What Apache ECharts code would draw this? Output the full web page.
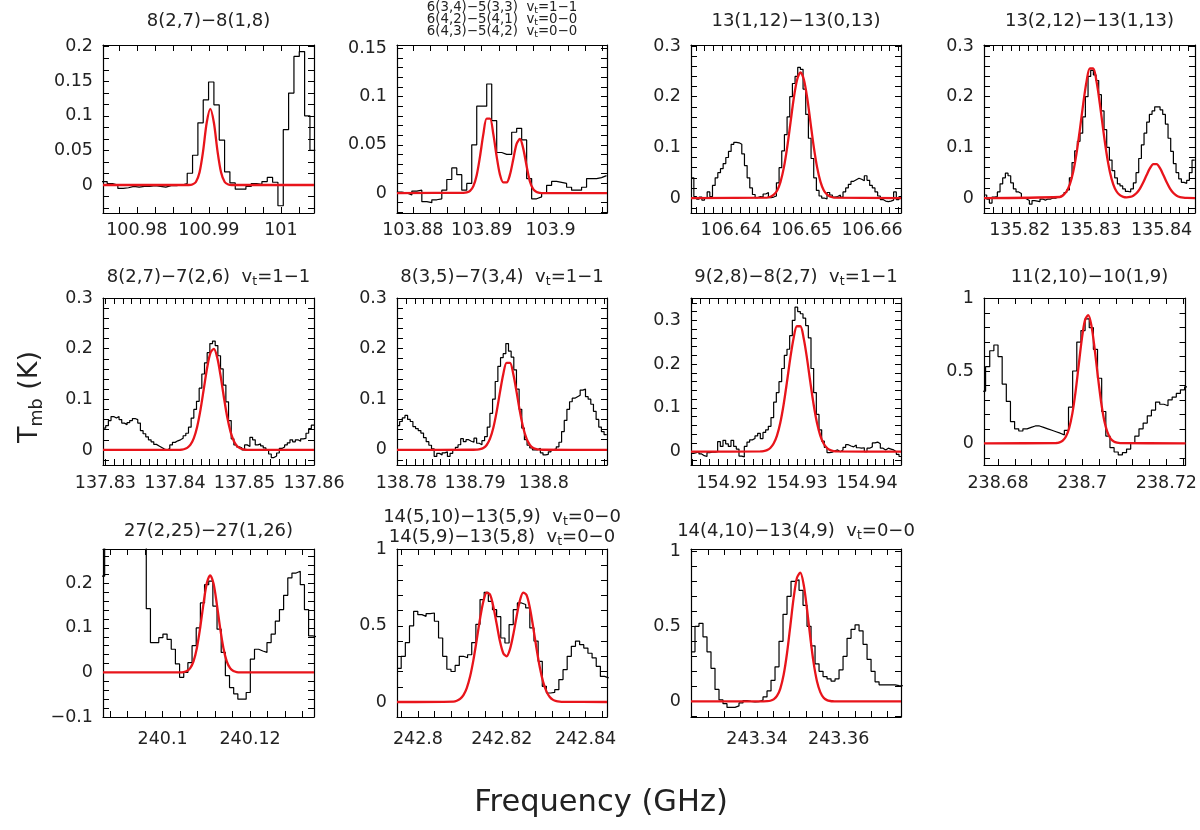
<!DOCTYPE html>
<html>
<head>
<meta charset="utf-8">
<script src="https://cdn.jsdelivr.net/npm/echarts@6/dist/echarts.min.js"></script>
<style>html,body{margin:0;padding:0;background:#fff}#main{width:1200px;height:830px}</style>
</head>
<body>
<div id="main"></div>
<script>
// panel titles (rich text: n = normal, s = subscript)
var titles = [
    '{n|8(2,7)−8(1,8)}',
    '{m|6(3,4)−5(3,3)  v}{ms|t}{m|=1−1}\n{m|6(4,2)−5(4,1)  v}{ms|t}{m|=0−0}\n{m|6(4,3)−5(4,2)  v}{ms|t}{m|=0−0}',
    '{n|13(1,12)−13(0,13)}',
    '{n|13(2,12)−13(1,13)}',
    '{n|8(2,7)−7(2,6)  v}{s|t}{n|=1−1}',
    '{n|8(3,5)−7(3,4)  v}{s|t}{n|=1−1}',
    '{n|9(2,8)−8(2,7)  v}{s|t}{n|=1−1}',
    '{n|11(2,10)−10(1,9)}',
    '{n|27(2,25)−27(1,26)}',
    '{n|14(5,10)−13(5,9)  v}{s|t}{n|=0−0}\n{n|14(5,9)−13(5,8)  v}{s|t}{n|=0−0}',
    '{n|14(4,10)−13(4,9)  v}{s|t}{n|=0−0}'
];

// axis ranges (GHz / K)
var xLo = [100.9753, 103.8777, 106.6343, 135.81496, 137.82966, 138.77865, 154.91486, 238.67667, 240.08639, 242.795, 243.32384];
var xHi = [101.0046, 103.9082, 106.6641, 135.84471, 137.86, 138.80918, 154.94486, 238.72455, 240.1346, 242.8451, 243.37527];
var yLo = [-0.0405, -0.0207, -0.0295, -0.0295, -0.0297, -0.03, -0.0304, -0.15, -0.1, -0.0985, -0.104];
var yHi = [0.2025, 0.1534, 0.302, 0.302, 0.3, 0.3, 0.351, 1.005, 0.277, 1.004, 1.015];

var xTickLabels = [
    [100.98, 100.99, 101], [103.88, 103.89, 103.9], [106.64, 106.65, 106.66], [135.82, 135.83, 135.84],
    [137.83, 137.84, 137.85, 137.86], [138.78, 138.79, 138.8], [154.92, 154.93, 154.94], [238.68, 238.7, 238.72],
    [240.1, 240.12], [242.8, 242.82, 242.84], [243.34, 243.36]
];
var yTickLabels = [
    [0, 0.05, 0.1, 0.15, 0.2], [0, 0.05, 0.1, 0.15], [0, 0.1, 0.2, 0.3], [0, 0.1, 0.2, 0.3],
    [0, 0.1, 0.2, 0.3], [0, 0.1, 0.2, 0.3], [0, 0.1, 0.2, 0.3], [0, 0.5, 1],
    [-0.1, 0, 0.1, 0.2], [0, 0.5, 1], [0, 0.5, 1]
];
var xMinorStep = [0.0025, 0.0025, 0.00125, 0.00125, 0.00125, 0.00125, 0.00125, 0.004, 0.004, 0.004, 0.004];
var yMinorStep = [0.05 / 3, 0.01, 0.02, 0.02, 0.02, 0.02, 0.02, 0.1, 0.02, 0.1, 0.1];

// observed spectra: first channel edge, channel width, Tmb per channel
var specStart = [100.975139, 103.877681, 106.634326, 135.814965, 137.829664, 138.778647, 154.914857, 238.676061, 240.085817, 242.79501, 243.323837];
var specWidth = [0.000741, 0.000725, 0.000378, 0.000376, 0.000384, 0.000386, 0.000381, 0.000985, 0.000951, 0.00099, 0.00098];

var spec1 = [0.005, 0.002, 0.0, -0.005, -0.004, -0.002, -0.003, -0.002, -0.002, -0.001, -0.002, -0.003, -0.001, -0.001, 0.0, 0.002,
    0.017, 0.043, 0.09, 0.123, 0.149, 0.116, 0.065, 0.019, 0.003, -0.006, -0.006, -0.002, 0.002, 0.001, 0.005, 0.011, 0.004,
    -0.03, 0.08, 0.133, 0.186, 0.193, 0.10, 0.05];
var spec2 = [0.001, 0.0, -0.002, 0.002, 0.003, -0.009, -0.010, -0.007, -0.006, 0.003, 0.014, 0.026, 0.019, 0.003, 0.01, 0.05,
    0.09, 0.09, 0.113, 0.075, 0.042, 0.04, 0.04, 0.063, 0.067, 0.055, 0.015, -0.006, -0.004, 0.0, 0.008, 0.012, 0.011, 0.01,
    0.006, 0.003, 0.003, 0.006, 0.015, 0.015, 0.016, 0.018];
var spec3 = [0.04, 0.003, -0.002, 0.002, -0.004, 0.0, 0.012, 0.003, 0.025, 0.04, 0.05, 0.058, 0.068, 0.08, 0.092, 0.106,
    0.11, 0.109, 0.106, 0.087, 0.064, 0.04, 0.02, 0.007, 0.001, 0.003, 0.002, 0.008, 0.011, 0.001, 0.002, 0.004,
    0.03, 0.06, 0.093, 0.125, 0.16, 0.2, 0.226, 0.24, 0.258, 0.254, 0.215, 0.165, 0.118, 0.078, 0.04, 0.015,
    0.004, 0.0, -0.002, 0.011, 0.006, 0.002, 0.003, 0.006, 0.002, 0.012, 0.02, 0.027, 0.033, 0.036, 0.039, 0.037,
    0.034, 0.044, 0.035, 0.025, 0.02, 0.012, 0.004, -0.003, -0.006, -0.007, -0.006, -0.004, 0.012, -0.003, 0.003];
var spec4 = [0.006, -0.002, -0.01, 0.002, 0.003, 0.012, 0.028, 0.04, 0.049, 0.044, 0.03, 0.018, 0.012, 0.009, 0.001, -0.002,
    -0.005, -0.012, -0.005, -0.006, -0.007, -0.002, -0.004, -0.002, -0.002, 0.0, 0.0, 0.002, 0.004, 0.007, 0.011, 0.016,
    0.04, 0.07, 0.093, 0.112, 0.128, 0.16, 0.2, 0.24, 0.252, 0.243, 0.232, 0.204, 0.172, 0.135, 0.1, 0.075,
    0.054, 0.04, 0.028, 0.024, 0.018, 0.013, 0.012, 0.018, 0.03, 0.05, 0.078, 0.105, 0.128, 0.15, 0.165, 0.172,
    0.18, 0.18, 0.174, 0.165, 0.146, 0.118, 0.092, 0.068, 0.05, 0.038, 0.031, 0.029, 0.035, 0.05, 0.075];
var spec5 = [0.043, 0.048, 0.058, 0.066, 0.063, 0.066, 0.06, 0.053, 0.05, 0.054, 0.058, 0.062, 0.06, 0.053, 0.038, 0.032,
    0.026, 0.02, 0.016, 0.011, 0.008, 0.005, 0.002, 0.0, 0.003, 0.01, 0.015, 0.018, 0.02, 0.023, 0.028, 0.033,
    0.045, 0.063, 0.08, 0.096, 0.122, 0.15, 0.172, 0.192, 0.21, 0.215, 0.206, 0.186, 0.16, 0.128, 0.095, 0.058,
    0.022, 0.01, 0.006, 0.004, 0.0, 0.01, 0.007, 0.025, 0.02, 0.01, 0.012, 0.008, 0.004, 0.0, -0.008, -0.015,
    -0.012, -0.006, 0.003, 0.006, 0.01, 0.014, 0.02, 0.016, 0.02, 0.017, 0.022, 0.023, 0.033, 0.042, 0.049];
var spec6 = [0.048, 0.056, 0.063, 0.068, 0.06, 0.056, 0.046, 0.042, 0.038, 0.033, 0.024, 0.016, 0.009, 0.002, -0.013, -0.007,
    -0.01, -0.006, -0.004, -0.013, -0.007, 0.0, 0.005, 0.01, 0.022, 0.016, 0.02, 0.017, 0.015, 0.023, 0.013, 0.01,
    0.018, 0.026, 0.045, 0.072, 0.1, 0.135, 0.165, 0.182, 0.19, 0.21, 0.195, 0.183, 0.158, 0.12, 0.08, 0.043,
    0.02, 0.009, 0.004, 0.0, 0.0, 0.003, -0.006, -0.01, -0.009, -0.004, 0.0, 0.002, 0.006, 0.015, 0.036, 0.058,
    0.08, 0.095, 0.102, 0.105, 0.108, 0.118, 0.12, 0.105, 0.1, 0.09, 0.076, 0.06, 0.045, 0.036, 0.03];
var spec7 = [-0.004, -0.002, 0.0, -0.005, -0.009, -0.011, -0.002, -0.001, -0.001, 0.0, 0.023, 0.012, 0.026, 0.018, 0.012, 0.026,
    0.012, 0.006, -0.01, -0.012, 0.012, 0.022, 0.027, 0.03, 0.036, 0.042, 0.03, 0.044, 0.05, 0.058, 0.078, 0.113,
    0.135, 0.16, 0.19, 0.22, 0.234, 0.265, 0.3, 0.33, 0.32, 0.315, 0.305, 0.288, 0.26, 0.19, 0.135, 0.085,
    0.05, 0.024, 0.01, -0.002, -0.001, 0.002, 0.004, 0.0, 0.004, 0.01, 0.016, 0.013, 0.011, 0.015, 0.009, 0.008,
    0.009, 0.0, 0.008, 0.011, 0.02, 0.022, 0.018, 0.008, 0.004, 0.008, 0.006, 0.004, 0.0, -0.006, -0.011];
var spec8 = [0.36, 0.53, 0.64, 0.68, 0.6, 0.41, 0.29, 0.15, 0.1, 0.085, 0.1, 0.11, 0.12, 0.12, 0.11, 0.1,
    0.09, 0.08, 0.07, 0.058, 0.09, 0.25, 0.5, 0.7, 0.78, 0.86, 0.8, 0.65, 0.45, 0.22, 0.05, -0.03,
    -0.06, -0.08, -0.065, -0.04, 0.0, 0.05, 0.1, 0.14, 0.19, 0.23, 0.285, 0.27, 0.26, 0.3, 0.32, 0.345,
    0.37, 0.39];
var spec9 = [0.216, 0.45, 0.6, 0.7, 0.8, 0.85, 0.8, 0.7, 0.55, 0.45, 0.35, 0.143, 0.067, 0.067, 0.078, 0.086,
    0.074, 0.052, 0.019, -0.011, 0.0, 0.022, 0.06, 0.1, 0.156, 0.197, 0.205, 0.149, 0.097, 0.045, -0.007, -0.034,
    -0.048, -0.06, -0.06, -0.045, 0.03, 0.052, 0.048, 0.045, 0.067, 0.086, 0.115, 0.141, 0.173, 0.212, 0.223, 0.227,
    0.197, 0.141, 0.082, 0.08];
var spec10 = [0.22, 0.3, 0.39, 0.5, 0.595, 0.573, 0.562, 0.58, 0.584, 0.53, 0.42, 0.3, 0.215, 0.2, 0.24, 0.3,
    0.29, 0.31, 0.39, 0.51, 0.672, 0.72, 0.66, 0.606, 0.56, 0.42, 0.387, 0.508, 0.606, 0.65, 0.64, 0.617,
    0.486, 0.4, 0.267, 0.103, 0.059, 0.063, 0.081, 0.147, 0.212, 0.3, 0.365, 0.4, 0.376, 0.354, 0.32, 0.289,
    0.234, 0.168, 0.158];
var spec11 = [0.33, 0.5, 0.52, 0.43, 0.33, 0.22, 0.08, 0.01, -0.015, -0.04, -0.04, -0.03, -0.01, 0.006, 0.0, -0.004,
    -0.002, 0.008, 0.03, 0.07, 0.14, 0.23, 0.4, 0.58, 0.7, 0.8, 0.81, 0.74, 0.64, 0.5, 0.37, 0.25,
    0.2, 0.165, 0.15, 0.135, 0.15, 0.21, 0.3, 0.42, 0.48, 0.51, 0.47, 0.38, 0.28, 0.2, 0.13, 0.11,
    0.11, 0.11, 0.11, 0.105, 0.104];

// gaussian fits: first sample, sample step, Tmb
var fitStart = [100.9872, 103.887343, 106.64511, 135.825647, 137.840802, 138.789758, 154.924762, 238.693864, 240.10403, 242.808475, 243.341633];
var fitStep = [0.0005, 0.000483, 0.000473, 0.000471, 0.00048, 0.000483, 0.000476, 0.000758, 0.00076, 0.000792, 0.000816];

var fit1 = [0, 0.0007, 0.0043, 0.018, 0.049, 0.090, 0.110, 0.090, 0.049, 0.018, 0.0043, 0.0007, 0];
var fit2 = [0.0002, 0.0006, 0.0022, 0.0072, 0.0185, 0.038, 0.061, 0.077, 0.077, 0.061, 0.038, 0.019, 0.011, 0.011, 0.019, 0.035,
    0.051, 0.056, 0.046, 0.028, 0.012, 0.004, 0.001, 0.0002, 0];
var fit3 = [0.001, 0.0025, 0.0066, 0.015, 0.032, 0.06, 0.10, 0.149, 0.198, 0.234, 0.248, 0.234, 0.198, 0.149, 0.10, 0.06,
    0.032, 0.015, 0.0066, 0.0025, 0.001];
var fit4 = [0.0021, 0.0055, 0.0129, 0.027, 0.0515, 0.0879, 0.1347, 0.1855, 0.2297, 0.2556, 0.2556, 0.2297, 0.1855, 0.1347, 0.0879, 0.0515,
    0.027, 0.0129, 0.0056, 0.0023, 0.0014, 0.0021, 0.0046, 0.0099, 0.0187, 0.0311, 0.0456, 0.0589, 0.0669, 0.0669, 0.0589, 0.0456,
    0.0311, 0.0187, 0.0099, 0.0046, 0.0019, 0.0007, 0.0002];
var fit5 = [0.0004, 0.0014, 0.0041, 0.0105, 0.0234, 0.046, 0.0796, 0.1213, 0.1627, 0.192, 0.1995, 0.1825, 0.1469, 0.1041, 0.0649, 0.0357,
    0.0172, 0.0073, 0.0027, 0.0009, 0.0003];
var fit6 = [0.0001, 0.0004, 0.0012, 0.0037, 0.0096, 0.022, 0.0437, 0.0755, 0.114, 0.15, 0.172, 0.172, 0.15, 0.114, 0.0755, 0.0437,
    0.022, 0.0096, 0.0037, 0.0012, 0.0004, 0.0001];
var fit7 = [0.0005, 0.0013, 0.0035, 0.0085, 0.0186, 0.0368, 0.0662, 0.1079, 0.1594, 0.2137, 0.2598, 0.2865, 0.2865, 0.2598, 0.2137, 0.1594,
    0.1079, 0.0662, 0.0368, 0.0186, 0.0085, 0.0035, 0.0013, 0.0005];
var fit8 = [0.002, 0.0064, 0.0183, 0.0466, 0.104, 0.205, 0.354, 0.54, 0.724, 0.854, 0.887, 0.812, 0.653, 0.463, 0.289, 0.158,
    0.0767, 0.0327, 0.0122, 0.004, 0.0012];
var fit9 = [0.0002, 0.0008, 0.0031, 0.0096, 0.0249, 0.0544, 0.0998, 0.154, 0.2, 0.218, 0.2, 0.154, 0.0998, 0.0544, 0.0249, 0.0096,
    0.0031, 0.0008, 0.0002];
var fit10 = [0.0029, 0.008, 0.02, 0.045, 0.0914, 0.167, 0.275, 0.408, 0.546, 0.66, 0.717, 0.705, 0.627, 0.513, 0.398, 0.32,
    0.3, 0.345, 0.441, 0.56, 0.665, 0.718, 0.702, 0.619, 0.492, 0.353, 0.228, 0.132, 0.0696, 0.0329, 0.014, 0.0054,
    0.0019, 0.0006];
var fit11 = [0.0003, 0.0012, 0.0042, 0.0132, 0.0361, 0.0856, 0.177, 0.319, 0.502, 0.689, 0.823, 0.857, 0.779, 0.617, 0.426, 0.256,
    0.134, 0.0616, 0.0246, 0.0086, 0.0026, 0.0007, 0.0002];

var specs = [spec1, spec2, spec3, spec4, spec5, spec6, spec7, spec8, spec9, spec10, spec11];
var fits = [fit1, fit2, fit3, fit4, fit5, fit6, fit7, fit8, fit9, fit10, fit11];

(function () {
    var myChart = echarts.init(document.getElementById('main'));
    var FONT = 'DejaVu Sans';
    var colLeft = [103, 397, 691, 984], colWidth = [211, 210, 210, 211];
    var rowTop = [45, 298, 549], rowHeight = [168, 167, 168];
    var labelMargin = [8, 9, 13];
    var titleY = [21, 277, 531];

    function minusSign(v) { return String(v).replace('-', '−'); }

    // histogram: one point per channel edge, drawn with step 'end'
    function steps(start, width, vals) {
        var pts = vals.map(function (v, i) { return [start + i * width, v]; });
        pts.push([start + vals.length * width, vals[vals.length - 1]]);
        return pts;
    }
    function fitLine(start, step, vals, lo, hi) {
        var pts = [[lo, 0]];
        vals.forEach(function (v, i) { pts.push([start + i * step, v]); });
        pts.push([hi, 0]);
        return pts;
    }
    function tickList(lo, hi, step) {
        var out = [], k = Math.ceil(lo / step - 1e-6);
        for (; k * step <= hi + 1e-9; k++) out.push(+(k * step).toFixed(6));
        return out;
    }

    var grid = [], xAxis = [], yAxis = [], series = [], graphic = [];
    var line = { show: true, onZero: false, lineStyle: { color: '#000', width: 1.2 } };
    var lbl = { fontFamily: FONT, fontSize: 17.5, color: '#222' };

    for (var i = 0; i < 11; i++) {
        var c = i % 4, r = Math.floor(i / 4);
        grid.push({ left: colLeft[c], top: rowTop[r], width: colWidth[c], height: rowHeight[r] });
        var xt = tickList(xLo[i], xHi[i], xMinorStep[i]);
        var yt = tickList(yLo[i], yHi[i], yMinorStep[i]);
        var tick = function (vals) {
            return { show: true, inside: true, length: 6, customValues: vals, lineStyle: { color: '#000', width: 1 } };
        };
        ['bottom', 'top'].forEach(function (pos) {
            xAxis.push({
                gridIndex: i, type: 'value', position: pos, min: xLo[i], max: xHi[i],
                axisLine: line, axisTick: tick(xt), splitLine: { show: false },
                axisLabel: pos === 'bottom' ? Object.assign({
                    customValues: xTickLabels[i], margin: labelMargin[r], formatter: minusSign
                }, lbl) : { show: false }
            });
        });
        ['left', 'right'].forEach(function (pos) {
            yAxis.push({
                gridIndex: i, type: 'value', position: pos, min: yLo[i], max: yHi[i],
                axisLine: line, axisTick: tick(yt), splitLine: { show: false },
                axisLabel: pos === 'left' ? Object.assign({
                    customValues: yTickLabels[i], margin: 10, formatter: minusSign
                }, lbl) : { show: false }
            });
        });
        series.push({
            type: 'line', xAxisIndex: 2 * i, yAxisIndex: 2 * i, step: 'end', symbol: 'none',
            lineStyle: { color: '#000', width: 1.2 }, data: steps(specStart[i], specWidth[i], specs[i]),
            silent: true, animation: false, z: 2
        });
        series.push({
            type: 'line', xAxisIndex: 2 * i, yAxisIndex: 2 * i, smooth: 0.3, symbol: 'none',
            lineStyle: { color: '#e8141b', width: 2.3 }, data: fitLine(fitStart[i], fitStep[i], fits[i], xLo[i], xHi[i]),
            silent: true, animation: false, z: 3
        });
        var ty = titleY[r];
        if (i === 1) ty = 20;
        if (i === 9) ty = 527;
        graphic.push({
            type: 'text', x: colLeft[c] + colWidth[c] / 2, y: ty,
            style: {
                text: titles[i], align: 'center', verticalAlign: 'middle', fill: '#222',
                rich: {
                    n: { fontFamily: FONT, fontSize: 18, lineHeight: 20, fill: '#222' },
                    s: { fontFamily: FONT, fontSize: 12.5, lineHeight: 12, padding: [9, 0, 0, 0], fill: '#222' },
                    m: { fontFamily: FONT, fontSize: 13.3, lineHeight: 12, fill: '#222' },
                    ms: { fontFamily: FONT, fontSize: 9.5, lineHeight: 6, padding: [6, 0, 0, 0], fill: '#222' }
                }
            }
        });
    }

    graphic.push({
        type: 'text', x: 30, y: 397, rotation: Math.PI / 2,
        style: {
            text: '{a|T}{b|mb}{a| (K)}', align: 'center', verticalAlign: 'middle',
            rich: {
                a: { fontFamily: FONT, fontSize: 27, lineHeight: 30, fill: '#222' },
                b: { fontFamily: FONT, fontSize: 17.5, lineHeight: 18, padding: [14, 0, 0, 0], fill: '#222' }
            }
        }
    });
    graphic.push({
        type: 'text', x: 601, y: 803,
        style: { text: 'Frequency (GHz)', align: 'center', verticalAlign: 'middle', fontFamily: FONT, fontSize: 30.5, fill: '#222' }
    });

    option = {
        backgroundColor: '#fff',
        animation: false,
        grid: grid,
        xAxis: xAxis,
        yAxis: yAxis,
        series: series,
        graphic: graphic
    };
    myChart.setOption(option);
})();
</script>
</body>
</html>
